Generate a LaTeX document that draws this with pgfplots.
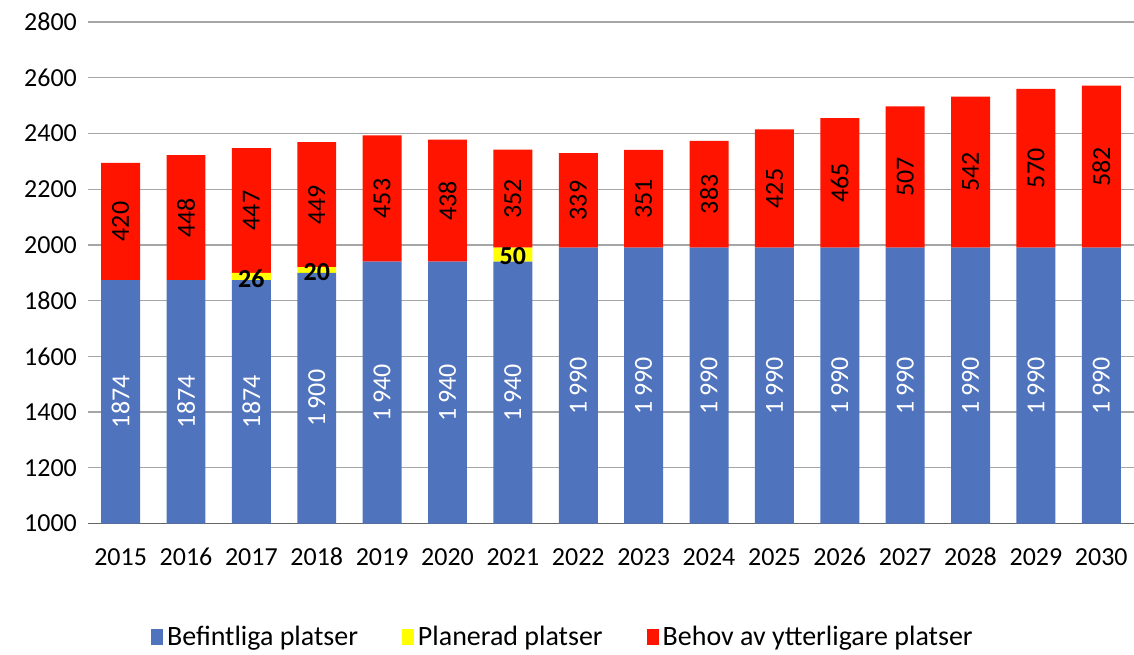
\documentclass[border=0pt]{standalone}
\usepackage{pgfplots}
\pgfplotsset{compat=1.18}
\usepackage{pgfplotstable}
\usepackage{fontspec}
\setmainfont{Carlito}
\definecolor{cblue}{HTML}{5073BE}
\definecolor{cred}{HTML}{FF1400}
\definecolor{cyel}{HTML}{FFFF00}
\definecolor{cgrid}{HTML}{A6A6A6}

\pgfplotstableread{
x blue yel red
0  1874 0  420
1  1874 0  448
2  1874 26 447
3  1900 20 449
4  1940 0  453
5  1940 0  438
6  1940 50 352
7  1990 0  339
8  1990 0  351
9  1990 0  383
10 1990 0  425
11 1990 0  465
12 1990 0  507
13 1990 0  542
14 1990 0  570
15 1990 0  582
}\data

\pgfplotsset{
  common/.style={
    scale only axis, width=523.5pt, height=251pt,
    xmin=-0.5, xmax=15.5, ymin=1000, ymax=2800,
    font=\fontsize{13}{15}\selectfont,
    /pgf/number format/assume math mode=true,
  }
}

\begin{document}
\begin{tikzpicture}
\path[use as bounding box] (-44pt,-65.5pt) rectangle (523.5pt,262pt);
\begin{axis}[common,
  ybar stacked, bar width=19.5pt,
  axis x line=bottom, axis y line=left,
  x axis line style={-, draw=gray!80!black, line width=0.9pt},
  y axis line style={draw=none},
  ytick={1000,1200,...,2800},
  ymajorgrids, grid style={cgrid, line width=0.6pt},
  xtick={0,...,15},
  xticklabels={2015,2016,2017,2018,2019,2020,2021,2022,2023,2024,2025,2026,2027,2028,2029,2030},
  major tick length=0pt,
  /pgf/number format/1000 sep={},
  yticklabel style={xshift=-2pt},
  xticklabel style={anchor=base, yshift=-21pt},
  legend style={draw=none, at={(axis description cs:0.455,-0.227)}, anchor=center,
    legend columns=3, font=\fontsize{14}{16}\selectfont,
    /tikz/every even column/.append style={column sep=20pt}},
  legend image code/.code={\fill[#1] (0pt,-4pt) rectangle (6pt,4pt);},
]
\addplot[fill=cblue, draw=none] table[x=x, y=blue] {\data};
\addplot[fill=cyel, draw=none] table[x=x, y=yel] {\data};
\addplot[fill=cred, draw=none] table[x=x, y=red] {\data};
\legend{Befintliga platser, Planerad platser, Behov av ytterligare platser}
\end{axis}
\begin{axis}[common, hide axis,
  nodes near coords, point meta=explicit symbolic]
\addplot[draw=none, mark=none, nodes near coords style={anchor=center, rotate=90, text=white, inner sep=0pt}]
coordinates {(0,1437) [1874] (1,1437) [1874] (2,1437) [1874] (3,1450) [1\,900]
 (4,1470) [1\,940] (5,1470) [1\,940] (6,1470) [1\,940] (7,1495) [1\,990]
 (8,1495) [1\,990] (9,1495) [1\,990] (10,1495) [1\,990] (11,1495) [1\,990]
 (12,1495) [1\,990] (13,1495) [1\,990] (14,1495) [1\,990] (15,1495) [1\,990]};
\addplot[draw=none, mark=none, nodes near coords style={anchor=center, rotate=90, text=black, inner sep=0pt}]
coordinates {(0,2084) [420] (1,2098) [448] (2,2123.5) [447] (3,2144.5) [449]
 (4,2166.5) [453] (5,2159) [438] (6,2166) [352] (7,2159.5) [339]
 (8,2165.5) [351] (9,2181.5) [383] (10,2202.5) [425] (11,2222.5) [465]
 (12,2243.5) [507] (13,2261) [542] (14,2275) [570] (15,2281) [582]};
\addplot[draw=none, mark=none, nodes near coords style={anchor=center, text=black, inner sep=0pt, font=\fontsize{13}{15}\selectfont\bfseries}]
coordinates {(2,1878) [26] (3,1904) [20] (6,1960) [50]};
\end{axis}
\end{tikzpicture}
\end{document}
